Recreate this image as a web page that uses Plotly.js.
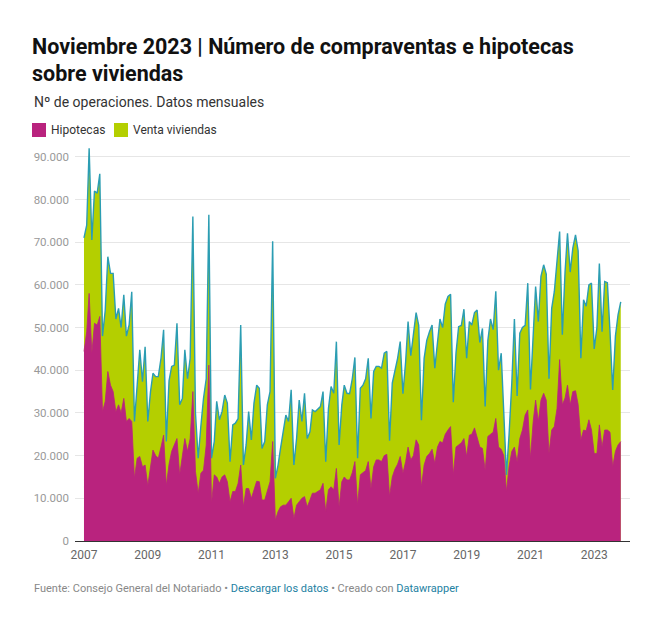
<!DOCTYPE html>
<html>
<head>
<meta charset="utf-8">
<script src="https://cdn.plot.ly/plotly-3.0.1.min.js"></script>
<style>
html,body{margin:0;padding:0;background:#fff;}
#chart{width:662px;height:629px;}
</style>
</head>
<body>
<div id="chart"></div>
<script>
// Datos mensuales, enero 2007 - noviembre 2023
const startYear = 2007;
const ventaViviendas = [
71000,74000,92000,70500,82000,81500,86000,48000,54000,66600,62700,62700,
52000,54500,50000,57700,48000,50600,58400,28000,36500,44800,37300,45500,
28000,35000,39300,38500,38500,42800,49500,23300,37500,40900,41200,51000,
31900,33400,44800,38000,42800,76000,30000,19400,27000,33400,38000,76400,
19400,23300,32700,28400,30300,34200,32300,18600,27200,27600,28700,50600,
17800,22500,30300,23700,32300,36500,35800,21700,23300,31900,35000,70200,
14700,17800,21700,25600,29500,28000,35400,17800,24000,33000,28000,34600,
24000,25600,30700,30300,31000,31500,35000,18600,31000,36200,34600,46700,
22500,31900,36500,34600,34500,38000,43000,19400,35800,36500,38000,42800,
28700,39700,40900,40900,40500,44000,44400,23500,37000,40000,42800,46700,
34500,42000,51400,43400,48000,53500,50500,28300,42800,47000,49000,50600,
40500,46700,52000,50000,55500,57300,57800,32500,44000,50200,50500,54300,
42800,51400,50600,53500,54100,46500,49800,31500,47000,52000,49500,58500,
40000,44000,30000,15500,25000,37000,52000,34000,48700,50000,50500,60400,
35500,50000,59600,51400,62000,64700,62500,38000,54500,58400,66000,72500,
48300,63000,72100,63000,68600,71700,68000,42800,56500,55000,60000,60400,
45000,50000,65000,49000,60800,60500,49000,35400,48000,53000,56000
];
const hipotecas = [
44400,49000,58000,44000,51000,50600,52600,30300,32700,39700,36500,35000,
30300,31900,30000,33400,28000,28700,28000,14700,19400,19800,17400,17800,
13000,17800,21300,20000,19400,22000,24800,13000,18000,21000,22500,24000,
15500,20000,24000,21000,24000,35000,16300,11200,15900,16600,22500,41200,
8800,15500,15000,13500,15000,15500,13900,9200,11600,11600,13500,17800,
8000,12300,12300,10000,12300,14000,13900,9600,9600,11600,13900,23300,
4900,6900,8000,8400,8400,9200,10000,5300,8400,9200,10000,10400,
8000,9600,11200,11200,11600,12000,13500,6900,12000,12700,12000,17000,
8000,13900,15000,14300,14300,16000,18600,8500,15500,15900,16500,18600,
12300,17400,19000,19000,18600,20000,20300,10500,15000,16800,18000,19800,
15900,18600,22000,19000,20000,23700,22500,12700,17800,19800,20500,21500,
18200,22000,23300,23000,25000,26000,26800,15500,22000,22500,23000,24000,
19800,24800,25000,26500,24000,22000,21700,16600,24500,25000,25500,28700,
22000,21500,20000,11600,17500,21000,22000,18500,24000,26000,29500,30700,
19400,28000,33000,28000,33000,34600,33000,20500,26000,26800,31000,42500,
31900,33500,36500,31900,35000,35200,32000,23700,26000,25800,28400,26000,
20500,20500,27200,22000,26000,26000,25500,17400,21000,22500,23300
];
const seriesNames = ["Hipotecas", "Venta viviendas"];
const tickYears = [2007,2009,2011,2013,2015,2017,2019,2021,2023];

const months = ventaViviendas.map((_, i) => {
  const d = new Date(Date.UTC(startYear, i, 1));
  return d.getUTCFullYear() + "-" + String(d.getUTCMonth() + 1).padStart(2, "0") + "-01";
});

const COL_HIP = "#b9237e";
const COL_VEN = "#b4cf00";
const COL_LINE = "#2b9db3";

const W = 662, H = 629;
const L = 75, R = 630, T = 144, B = 541;
const px = x => (x - L) / (R - L);
const py = y => (B - y) / (B - T);

const traces = [
  {
    x: months, y: ventaViviendas, name: seriesNames[1], type: "scatter", mode: "lines",
    fill: "tozeroy", fillcolor: COL_VEN, line: {color: COL_LINE, width: 1.4},
    hoverinfo: "skip"
  },
  {
    x: months, y: hipotecas, name: seriesNames[0], type: "scatter", mode: "lines",
    fill: "tozeroy", fillcolor: COL_HIP, line: {color: COL_HIP, width: 0.8},
    hoverinfo: "skip"
  }
];

const layout = {
  width: W, height: H,
  margin: {l: L, r: W - R, t: T, b: H - B, pad: 0},
  paper_bgcolor: "#fff", plot_bgcolor: "#fff",
  font: {family: "Roboto, sans-serif", color: "#333"},
  separators: ",.",
  showlegend: false,
  title: {
    text: "Noviembre 2023 | Número de compraventas e hipotecas<br>sobre viviendas",
    font: {family: "Roboto, sans-serif", size: 21.5, color: "#111", weight: 700},
    x: 32 / W, xanchor: "left", xref: "container",
    y: 1 - 53.5 / H, yanchor: "top", yref: "container"
  },
  xaxis: {
    type: "date",
    range: ["2006-09-20", "2024-02-15"],
    tickvals: tickYears.map(y => y + "-01-01"),
    ticktext: tickYears.map(String),
    showgrid: false, zeroline: false,
    showline: true, linecolor: "#333", linewidth: 1,
    ticks: "", ticklabelstandoff: 3,
    tickfont: {family: "Roboto, sans-serif", size: 12, color: "#666"}
  },
  yaxis: {
    range: [0, 93000],
    dtick: 10000, tick0: 0,
    tickformat: ",d",
    showgrid: true, gridcolor: "#e6e6e6", gridwidth: 1,
    zeroline: false, showline: false,
    ticks: "", ticklabelstandoff: 5,
    tickfont: {family: "Roboto, sans-serif", size: 11.5, color: "#999"}
  },
  shapes: [
    {type: "rect", xref: "paper", yref: "paper", x0: px(32), x1: px(46), y0: py(137), y1: py(123),
     fillcolor: COL_HIP, line: {width: 0}},
    {type: "rect", xref: "paper", yref: "paper", x0: px(114), x1: px(128), y0: py(137), y1: py(123),
     fillcolor: COL_VEN, line: {width: 0}}
  ],
  annotations: [
    {text: "Nº de operaciones. Datos mensuales", xref: "paper", yref: "paper",
     x: px(32), y: py(102), xanchor: "left", yanchor: "middle", showarrow: false,
     font: {family: "Roboto, sans-serif", size: 14, color: "#333"}},
    {text: seriesNames[0], xref: "paper", yref: "paper",
     x: px(49), y: py(130), xanchor: "left", yanchor: "middle", showarrow: false,
     font: {family: "Roboto, sans-serif", size: 12, color: "#333"}},
    {text: seriesNames[1], xref: "paper", yref: "paper",
     x: px(131), y: py(130), xanchor: "left", yanchor: "middle", showarrow: false,
     font: {family: "Roboto, sans-serif", size: 12, color: "#333"}},
    {text: "Fuente: Consejo General del Notariado • <span style='color:#1d81a2'>Descargar los datos</span> • Creado con <span style='color:#1d81a2'>Datawrapper</span>",
     xref: "paper", yref: "paper",
     x: px(32), y: py(588), xanchor: "left", yanchor: "middle", showarrow: false,
     font: {family: "Roboto, sans-serif", size: 11, color: "#888"}}
  ]
};

Plotly.newPlot("chart", traces, layout, {displayModeBar: false, staticPlot: true});
</script>
</body>
</html>
